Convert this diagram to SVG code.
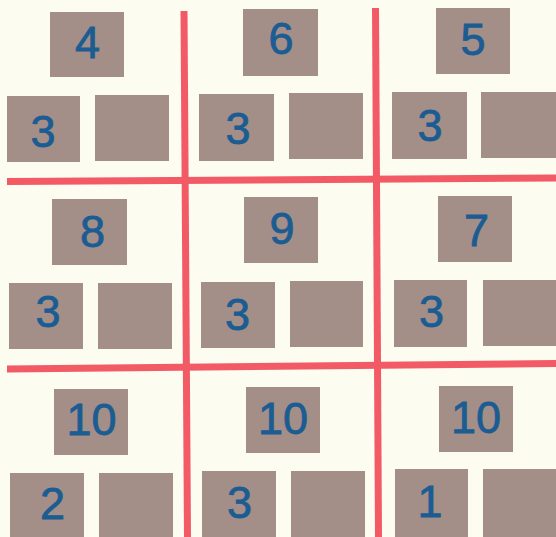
<svg xmlns="http://www.w3.org/2000/svg" width="556" height="537" viewBox="0 0 556 537">
<style>
.bg{fill:#fdfcf0}
.box{fill:#a38e88}
.num{fill:#1b5c92;stroke:#1b5c92;stroke-width:0.8;font-family:"Liberation Sans",Arial,sans-serif;font-size:45px;text-anchor:middle}
.ln{stroke:#f25a66;stroke-width:7;fill:none}
</style>
<rect class="bg" x="0" y="0" width="556" height="537"/>
<g id="connectors">
<line class="ln" x1="184" y1="11" x2="187.5" y2="537"/>
<line class="ln" x1="375.5" y1="8" x2="378.5" y2="537"/>
<line class="ln" x1="7" y1="181.5" x2="556" y2="178"/>
<line class="ln" x1="7" y1="369" x2="556" y2="363.5"/>
</g>
<g id="cell-1-1">
<rect class="box" x="50" y="12" width="74" height="65"/><text class="num" x="87.5" y="58">4</text>
<rect class="box" x="7" y="96" width="73" height="66"/><text class="num" x="43" y="147">3</text>
<rect class="box" x="95" y="95" width="74" height="66"/>
</g>
<g id="cell-1-2">
<rect class="box" x="243" y="9" width="75" height="67"/><text class="num" x="281" y="54">6</text>
<rect class="box" x="199" y="94" width="75" height="67"/><text class="num" x="238" y="144">3</text>
<rect class="box" x="289" y="93" width="74" height="66"/>
</g>
<g id="cell-1-3">
<rect class="box" x="436" y="8" width="74" height="66"/><text class="num" x="473" y="55">5</text>
<rect class="box" x="392" y="92" width="75" height="67"/><text class="num" x="430" y="141">3</text>
<rect class="box" x="481" y="92" width="75" height="66"/>
</g>
<g id="cell-2-1">
<rect class="box" x="52" y="199" width="75" height="66"/><text class="num" x="92.5" y="247">8</text>
<rect class="box" x="9" y="283" width="74" height="66"/><text class="num" x="48" y="327">3</text>
<rect class="box" x="98" y="283" width="74" height="66"/>
</g>
<g id="cell-2-2">
<rect class="box" x="244" y="197" width="74" height="66"/><text class="num" x="282" y="244">9</text>
<rect class="box" x="201" y="282" width="74" height="66"/><text class="num" x="237.5" y="330">3</text>
<rect class="box" x="290" y="281" width="73" height="66"/>
</g>
<g id="cell-2-3">
<rect class="box" x="438" y="196" width="74" height="66"/><text class="num" x="476.5" y="246">7</text>
<rect class="box" x="394" y="280" width="73" height="67"/><text class="num" x="431.5" y="327">3</text>
<rect class="box" x="483" y="280" width="73" height="66"/>
</g>
<g id="cell-3-1">
<rect class="box" x="54" y="389" width="74" height="66"/><text class="num" x="91.5" y="435">10</text>
<rect class="box" x="10" y="473" width="74" height="64"/><text class="num" x="52.5" y="519">2</text>
<rect class="box" x="99" y="473" width="74" height="64"/>
</g>
<g id="cell-3-2">
<rect class="box" x="246" y="387" width="74" height="66"/><text class="num" x="283" y="434">10</text>
<rect class="box" x="202" y="471" width="74" height="66"/><text class="num" x="239.5" y="518">3</text>
<rect class="box" x="291" y="471" width="74" height="66"/>
</g>
<g id="cell-3-3">
<rect class="box" x="439" y="386" width="74" height="66"/><text class="num" x="476" y="433">10</text>
<rect class="box" x="395" y="469" width="73" height="68"/><text class="num" x="430" y="517">1</text>
<rect class="box" x="483" y="469" width="73" height="68"/>
</g>
</svg>
